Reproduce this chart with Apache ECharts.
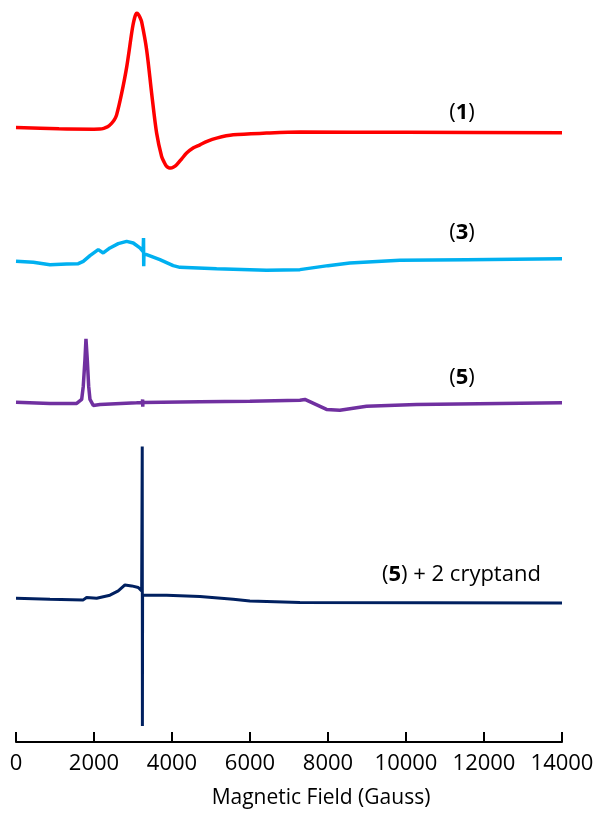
<!DOCTYPE html>
<html>
<head>
<meta charset="utf-8">
<script src="https://cdn.jsdelivr.net/npm/echarts@6/dist/echarts.min.js"></script>
<style>
html,body{margin:0;padding:0;background:#fff;}
#chart{width:606px;height:814px;}
</style>
</head>
<body>
<div id="chart"></div>
<script>
// Magnetic field (Gauss) and EPR signal (arbitrary units, relative to each trace's baseline)
const fieldTicks = [0, 2000, 4000, 6000, 8000, 10000, 12000, 14000];

const trace1Field = [0, 1100, 2000, 2150, 2250, 2350, 2450, 2520, 2580, 2710, 2840, 2965, 3000, 3040, 3070, 3093, 3130, 3180, 3222, 3350, 3478, 3606, 3734, 3800, 3862, 3920, 3965, 4030, 4119, 4250, 4375, 4550, 4716, 4900, 5143, 5570, 6425, 7279, 10000, 14000];
const trace1Signal = [2.3, 1, 0.7, 0.8, 1.5, 3, 6.5, 10, 15, 36.7, 63.3, 96.7, 105, 112, 115.5, 116.7, 116, 112.5, 108, 80, 36.7, -3.3, -26.7, -32.5, -36.7, -38, -38.3, -37.5, -35, -29, -23.3, -18, -15, -11.5, -8.3, -5, -3.3, -2.3, -2.5, -3];

const trace3Field = [0, 443, 871, 1300, 1597, 1725, 1897, 2109, 2237, 2409, 2622, 2837, 3006, 3178, 3260, 3270, 3275, 3280, 3350, 3690, 4031, 4203, 5143, 6425, 7279, 8000, 8560, 9841, 11551, 14000];
const trace3Signal = [0.3, -0.7, -3, -2.3, -2, 0.3, 6, 12, 8.7, 13.7, 18, 20.3, 18.7, 13.7, 10, 23.7, -4.7, 8, 7, 2, -4, -5.7, -7, -8.7, -8, -4, -1.3, 1.3, 2, 3];

const trace5Field = [0, 871, 1556, 1684, 1725, 1768, 1794, 1828, 1863, 1897, 1981, 2153, 3093, 3240, 3247, 3250, 3255, 4716, 5997, 7279, 7407, 7963, 8304, 8988, 10270, 14000];
const trace5Signal = [0.3, -1, -1, 3, 16.3, 43, 63.7, 43, 16.3, 3, -3, -2, -0.3, 0, 3, -4.3, 0, 0.7, 1.3, 2.3, 3, -7, -7.7, -3.7, -2, -0.3];

const trace5cField = [0, 871, 1725, 1811, 2068, 2409, 2622, 2794, 2965, 3135, 3222, 3232, 3237, 3241, 3246, 3350, 3862, 4716, 5570, 5997, 7279, 14000];
const trace5cSignal = [1, 0, -0.7, 1.7, 1, 4, 8.3, 14.3, 13.3, 11.7, 8.3, 7, 153, -127, 4, 4, 4, 2.7, 0, -1.7, -3.3, -3.7];

// vertical stacking offsets of each trace
const traceNames = ['(1)', '(3)', '(5)', '(5) + 2 cryptand'];
const traceOffsets = [613, 481, 340, 143];
const traceColors = ['#FF0000', '#00B0F0', '#7030A0', '#002060'];

function build(field, signal, offset) {
  return field.map((f, i) => [f, signal[i] + offset]);
}
const fields = [trace1Field, trace3Field, trace5Field, trace5cField];
const signals = [trace1Signal, trace3Signal, trace5Signal, trace5cSignal];

const FONT = '"Open Sans", "Noto Sans", sans-serif';

const chart = echarts.init(document.getElementById('chart'), null, {renderer: 'canvas'});

const series = fields.map((f, i) => ({
  type: 'line',
  name: traceNames[i],
  data: build(f, signals[i], traceOffsets[i]),
  showSymbol: false,
  smooth: i === 0 ? 0.3 : false,
  lineStyle: {color: traceColors[i], width: i === 3 ? 3 : 3.5},
  itemStyle: {color: traceColors[i]},
  z: 2
}));

function label(parts, x, y, align) {
  return {
    type: 'text',
    x: x, y: y,
    style: {
      text: parts,
      rich: {
        p: {fontFamily: FONT, fontSize: 22, fill: '#000'},
        b: {fontFamily: FONT, fontSize: 22, fontWeight: 'bold', fill: '#000'}
      },
      align: align,
      verticalAlign: 'middle'
    }
  };
}

chart.setOption({
  animation: false,
  backgroundColor: '#fff',
  grid: {left: 16, right: 44, top: 0, bottom: 71, containLabel: false},
  xAxis: {
    type: 'value',
    min: 0, max: 14000, interval: 2000,
    name: 'Magnetic Field (Gauss)',
    nameLocation: 'middle',
    nameGap: 46,
    nameTextStyle: {fontFamily: FONT, fontSize: 21, color: '#000', padding: [0, 0, 0, 64]},
    axisLine: {show: true, lineStyle: {color: '#000', width: 2}},
    axisTick: {show: true, inside: true, length: 10, lineStyle: {color: '#000', width: 2}},
    axisLabel: {fontFamily: FONT, fontSize: 22, color: '#000', margin: 11,
      formatter: v => fieldTicks.includes(v) ? String(v) : ''},
    splitLine: {show: false}
  },
  yAxis: {
    type: 'value', min: 0, max: 743, show: false,
    splitLine: {show: false}
  },
  series: series,
  graphic: [
    label('{p|(}{b|1}{p|)}', 462, 113, 'center'),
    label('{p|(}{b|3}{p|)}', 462, 233, 'center'),
    label('{p|(}{b|5}{p|)}', 462, 378, 'center'),
    label('{p|(}{b|5}{p|) + 2 cryptand}', 382, 575, 'left')
  ]
});
</script>
</body>
</html>
